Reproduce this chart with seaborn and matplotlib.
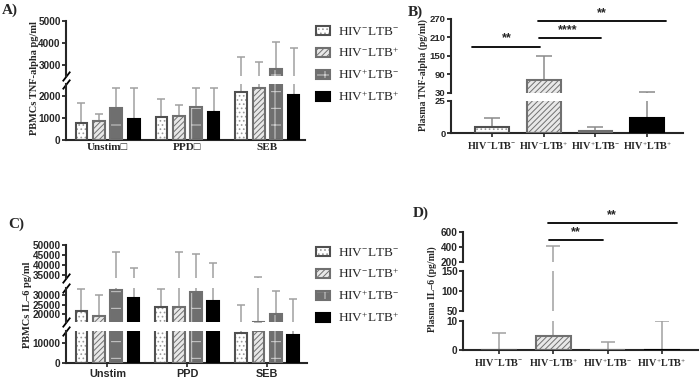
import numpy as np
import pandas as pd
import matplotlib
matplotlib.use('Agg')
import matplotlib.pyplot as plt
import seaborn as sns
from matplotlib.patches import Rectangle, Patch
from matplotlib.container import BarContainer

sns.set_style('ticks')
plt.rcParams['font.family'] = ['Liberation Sans', 'DejaVu Sans']
plt.rcParams['mathtext.fontset'] = 'custom'
plt.rcParams['mathtext.rm'] = 'Liberation Serif'
plt.rcParams['mathtext.it'] = 'Liberation Serif:italic'
plt.rcParams['mathtext.bf'] = 'Liberation Serif:bold'
plt.rcParams['hatch.linewidth'] = 0.7

SERIF = ['Liberation Serif', 'DejaVu Serif']

# groups and categories
groups = ['HIV$^{-}$LTB$^{-}$', 'HIV$^{-}$LTB$^{+}$', 'HIV$^{+}$LTB$^{-}$', 'HIV$^{+}$LTB$^{+}$']
stims_a = ['Unstim\u25a1', 'PPD\u25a1', 'SEB']
stims_c = ['Unstim', 'PPD', 'SEB']

# A) PBMC TNF-alpha (rows = group, cols = stim), mean and upper error
tnf_pbmc = [[760, 1060, 2200], [880, 1075, 2350], [1470, 1515, 2790], [940, 1290, 2030]]
tnf_pbmc_err = [[1700, 1860, 3340], [1170, 1580, 3110], [2350, 2390, 4060], [2350, 2380, 3780]]
# B) plasma TNF-alpha
tnf_plasma = [5.2, 70.7, 1.5, 12.1]
tnf_plasma_err = [11.6, 150, 4.6, 33]
# C) PBMC IL-6
il6_pbmc = [[21800, 23500, 15000], [19000, 23500, 16200], [32300, 31500, 20000], [28200, 26800, 13800]]
il6_pbmc_err = [[32800, 33000, 24700], [29800, 46600, 34000], [46600, 45600, 31800], [38600, 41000, 27700]]
# D) plasma IL-6
il6_plasma = [0, 5.0, 0, 0]
il6_plasma_err = [5.8, 410, 2.7, 10]

# bar styles per group
fills = ['white', '#e8e8e8', '#6f6f6f', 'black']
hatch_cols = ['#9a9a9a', '#707070', '#d0d0d0', 'black']
hatches = ['....', '//////', '+', None]
edges = ['#505050', '#707070', '#707070', 'black']

W, H = 700, 380
fig = plt.figure(figsize=(7, 3.8), dpi=100)


def seg(l, r, b, t):
    return fig.add_axes([l / W, 1 - b / H, (r - l) / W, (b - t) / H])


def long_df(vals, stims):
    rows = []
    for g, row in zip(groups, vals):
        for s, v in zip(stims, row):
            rows.append({'stim': s, 'group': g, 'value': v})
    return pd.DataFrame(rows)


def restyle(ax, errs, errcol, cap):
    bars = [c for c in ax.containers if isinstance(c, BarContainer)]
    for i, cont in enumerate(bars):
        for j, p in enumerate(cont):
            p.set_hatch(hatches[i])
            p.set_edgecolor(hatch_cols[i])
            p.set_linewidth(0)
            ax.add_patch(Rectangle(p.get_xy(), p.get_width(), p.get_height(), fill=False,
                                   edgecolor=edges[i], lw=1.5, zorder=3))
            x = p.get_x() + p.get_width() / 2
            h = p.get_height()
            ax.errorbar(x, h, yerr=[[0], [errs[i][j] - h]], color=errcol, lw=1.1,
                        capsize=cap, capthick=1.1, zorder=2.5)


def style_seg(ax, ylim, ticks, xlim, bottom, xticks=True, xsize=8.5, xfam=SERIF, ysize=7.2):
    ax.set_ylim(ylim)
    ax.set_yticks(ticks)
    ax.set_xlim(xlim)
    # hide error caps that fall outside this segment
    for ln in ax.lines:
        if ln.get_marker() == '_':
            y = ln.get_ydata()[0]
            if not (ylim[0] <= y <= ylim[1]):
                ln.set_visible(False)
    ax.set_facecolor('none')
    ax.set_xlabel('')
    ax.set_ylabel('')
    ax.spines[['top', 'right']].set_visible(False)
    ax.spines['left'].set_linewidth(1.5)
    ax.tick_params(axis='y', length=3, width=1.3, labelsize=ysize, pad=0.8)
    plt.setp(ax.get_yticklabels(), fontweight='bold')
    if bottom:
        ax.spines['bottom'].set_linewidth(1.5)
        ax.tick_params(axis='x', length=3 if xticks else 0, width=1.2, pad=2)
        for lab in ax.get_xticklabels():
            lab.set_fontfamily(xfam)
            lab.set_fontweight('bold')
            lab.set_fontsize(xsize)
    else:
        ax.spines['bottom'].set_visible(False)
        ax.tick_params(axis='x', bottom=False, labelbottom=False)


def break_mark(ax, y):
    ax.plot([0], [y], transform=ax.transAxes, marker=[(-1, -1.3), (1, 1.3)], markersize=7,
            linestyle='none', color='k', mec='k', mew=1.3, clip_on=False)


def grouped(ax, df, errs, stim_order):
    sns.barplot(data=df, x='stim', y='value', hue='group', order=stim_order, hue_order=groups,
                palette=fills, saturation=1, width=0.87, gap=0.32, errorbar=None,
                legend=False, ax=ax)
    restyle(ax, errs, '#a0a0a0', 2.8)


def single(ax, vals, errs, errcol, cap):
    sns.barplot(x=groups, y=vals, hue=groups, order=groups, hue_order=groups, palette=fills,
                saturation=1, width=0.65, errorbar=None, legend=False, ax=ax)
    restyle(ax, [[e] for e in errs], errcol, cap)


def legend(x, y):
    handles = [(Patch(facecolor=fills[i], edgecolor=hatch_cols[i], hatch=hatches[i], lw=0),
                Patch(fill=False, edgecolor=edges[i], lw=1.5)) for i in range(4)]
    fig.legend(handles, groups, loc='upper left', bbox_to_anchor=(x / W, 1 - y / H),
               frameon=False, prop={'family': SERIF, 'size': 9.5}, handlelength=1.05,
               handleheight=0.7, handletextpad=0.6, labelspacing=0.62, borderpad=0,
               borderaxespad=0)


# ---------- A ----------
df_a = long_df(tnf_pbmc, stims_a)
xl_a = (-0.52, 2.47)
a_lo = seg(66, 305, 140, 84)
a_hi = seg(66, 305, 75.5, 21.3)
for ax in (a_lo, a_hi):
    grouped(ax, df_a, tnf_pbmc_err, stims_a)
style_seg(a_lo, (0, 2550), [0, 1000, 2000], xl_a, True, xticks=False, xsize=8)
style_seg(a_hi, (2500, 5000), [3000, 4000, 5000], xl_a, False)
break_mark(a_lo, 1)
break_mark(a_hi, 0)
legend(316, 26)
fig.text(34.5 / W, 1 - 78 / H, 'PBMCs TNF-alpha pg/ml', rotation=90, ha='center', va='center',
         family=SERIF, weight='bold', fontsize=7.5)

# ---------- B ----------
xl_b = (-0.79, 3.69)
b_lo = seg(451, 683, 133.3, 101)
b_hi = seg(451, 683, 92.7, 19)
for ax in (b_lo, b_hi):
    single(ax, tnf_plasma, tnf_plasma_err, '#8a8a8a', 6)
style_seg(b_lo, (0, 25), [0, 25], xl_b, True, xsize=7.3, ysize=6.8)
style_seg(b_hi, (30, 270), [30, 90, 150, 210, 270], xl_b, False, ysize=6.8)
fig.text(423 / W, 1 - 75 / H, 'Plasma TNF-alpha (pg/ml)', rotation=90, ha='center', va='center',
         family=SERIF, weight='bold', fontsize=7)
for x0, x1, y, tx, ty, s in [(-0.39, 0.93, 180, 0.28, 206, '**'),
                             (0.91, 2.1, 209, 1.47, 234, '****'),
                             (0.89, 3.37, 265, 2.12, 289, '**')]:
    b_hi.plot([x0, x1], [y, y], color='k', lw=1.3, clip_on=False)
    b_hi.text(tx, ty, s, ha='center', va='center', fontsize=9, weight='bold', clip_on=False)

# ---------- C ----------
df_c = long_df(il6_pbmc, stims_c)
xl_c = (-0.52, 2.5)
c_lo = seg(66, 307, 363, 331)
c_mid = seg(66, 307, 322, 288)
c_hi = seg(66, 307, 278.3, 245.3)
for ax in (c_lo, c_mid, c_hi):
    grouped(ax, df_c, il6_pbmc_err, stims_c)
style_seg(c_lo, (0, 16000), [0, 10000], xl_c, True, xsize=7.8,
          xfam=['Liberation Sans', 'DejaVu Sans'])
style_seg(c_mid, (16000, 33500), [20000, 25000, 30000], xl_c, False)
style_seg(c_hi, (33500, 50000), [35000, 40000, 45000, 50000], xl_c, False)
c_lo.tick_params(axis='x', pad=1)
break_mark(c_lo, 1)
break_mark(c_mid, 0)
break_mark(c_mid, 1)
break_mark(c_hi, 0)
legend(316, 247)
fig.text(28 / W, 1 - 305 / H, 'PBMCs IL\u20136 pg/ml', rotation=90, ha='center', va='center',
         family=SERIF, weight='bold', fontsize=7.5)

# ---------- D ----------
xl_d = (-0.66, 3.66)
d_lo = seg(463, 698, 350, 321.3)
d_mid = seg(463, 698, 310.7, 270.7)
d_hi = seg(463, 698, 261.7, 232)
for ax in (d_lo, d_mid, d_hi):
    single(ax, il6_plasma, il6_plasma_err, '#a0a0a0', 5)
style_seg(d_lo, (0, 10), [0, 10], xl_d, True, xsize=7.3)
style_seg(d_mid, (50, 150), [50, 100, 150], xl_d, False)
style_seg(d_hi, (200, 600), [200, 400, 600], xl_d, False)
fig.text(432 / W, 1 - 289 / H, 'Plasma IL\u20136 (pg/ml)', rotation=90, ha='center', va='center',
         family=SERIF, weight='bold', fontsize=7)
for x0, x1, y, tx, ty, s in [(0.92, 1.92, 490, 1.41, 594, '**'),
                             (0.90, 3.28, 723, 2.07, 827, '**')]:
    d_hi.plot([x0, x1], [y, y], color='k', lw=1.3, clip_on=False)
    d_hi.text(tx, ty, s, ha='center', va='center', fontsize=9, weight='bold', clip_on=False)

# panel letters
for x, y, s in [(2, 10, 'A)'), (408, 12, 'B)'), (8, 224, 'C)'), (413, 213, 'D)')]:
    fig.text(x / W, 1 - y / H, s, ha='left', va='center', family=SERIF, weight='bold', fontsize=11)

fig.savefig('out.png', dpi=100)
